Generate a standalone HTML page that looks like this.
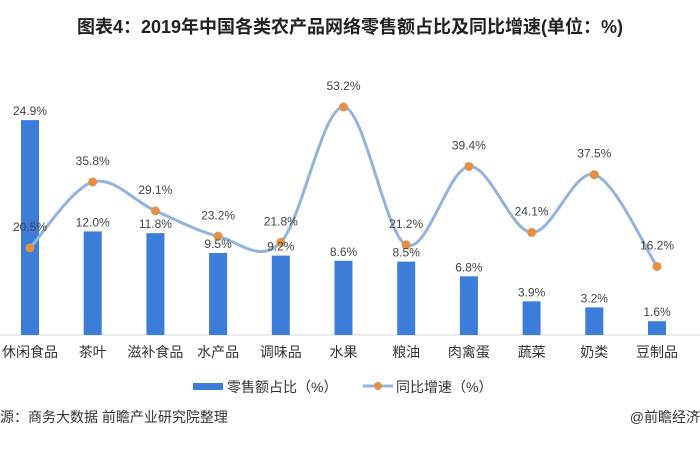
<!DOCTYPE html>
<html><head><meta charset="utf-8"><style>
body{margin:0;background:#fff;}
svg{display:block;font-family:"Liberation Sans","Noto Sans CJK SC",sans-serif;}
</style></head><body>
<svg width="700" height="470" viewBox="0 0 700 470" xmlns="http://www.w3.org/2000/svg">
<text x="350" y="33" text-anchor="middle" font-size="18" font-weight="bold" fill="#222">图表4：2019年中国各类农产品网络零售额占比及同比增速(单位：%)</text>
<line x1="0" y1="335" x2="700" y2="335" stroke="#d9d9d9" stroke-width="1"/>
<g id="bars" fill="#3b7dd8"></g>
<path id="ln" fill="none" stroke="#93b3dd" stroke-width="3"/>
<g id="dots" fill="#e58f44"></g>
<g id="lbl" font-size="12" fill="#444" text-anchor="middle"></g>
<g font-size="14" fill="#333" text-anchor="middle" id="cats"></g>
<rect x="193" y="383" width="30" height="7" fill="#3b7dd8"/>
<text x="227" y="392" font-size="14" fill="#333">零售额占比（%）</text>
<line x1="363" y1="386" x2="393" y2="386" stroke="#93b3dd" stroke-width="3"/>
<circle cx="378" cy="386" r="4" fill="#e58f44"/>
<text x="396" y="392" font-size="14" fill="#333">同比增速（%）</text>
<text x="0" y="422" font-size="14" fill="#333">源：商务大数据 前瞻产业研究院整理</text>
<text x="700" y="422" font-size="14" fill="#333" text-anchor="end">@前瞻经济</text>
</svg>
<script>
(function(){
var cats=["休闲食品","茶叶","滋补食品","水产品","调味品","水果","粮油","肉禽蛋","蔬菜","奶类","豆制品"];
var b=[24.9,12.0,11.8,9.5,9.2,8.6,8.5,6.8,3.9,3.2,1.6];
var l=[20.5,35.8,29.1,23.2,21.8,53.2,21.2,39.4,24.1,37.5,16.2];
var ns="http://www.w3.org/2000/svg";
function el(t,a,txt,p){var e=document.createElementNS(ns,t);for(var k in a)e.setAttribute(k,a[k]);if(txt)e.textContent=txt;document.getElementById(p).appendChild(e);}
var pts=[];
for(var i=0;i<11;i++){
 var x=30+i*62.7;
 var bt=335-b[i]*8.63;
 el("rect",{x:x-9,y:bt,width:18,height:335-bt},null,"bars");
 var y=107+(53.2-l[i])*4.31;pts.push([x,y]);
 el("circle",{cx:x,cy:y,r:4.5},null,"dots");
 el("text",{x:x,y:bt-5},b[i].toFixed(1)+"%","lbl");
 el("text",{x:x,y:y-17},l[i].toFixed(1)+"%","lbl");
 el("text",{x:x,y:357},cats[i],"cats");
}
var d="M"+pts[0][0]+","+pts[0][1];
for(var i=0;i<10;i++){
 var p0=pts[Math.max(i-1,0)],p1=pts[i],p2=pts[i+1],p3=pts[Math.min(i+2,10)];
 var c1=[p1[0]+(p2[0]-p0[0])/6,p1[1]+(p2[1]-p0[1])/6],c2=[p2[0]-(p3[0]-p1[0])/6,p2[1]-(p3[1]-p1[1])/6];
 d+=" C"+c1+" "+c2+" "+p2;
}
document.getElementById("ln").setAttribute("d",d);
})();
</script>
</body></html>
